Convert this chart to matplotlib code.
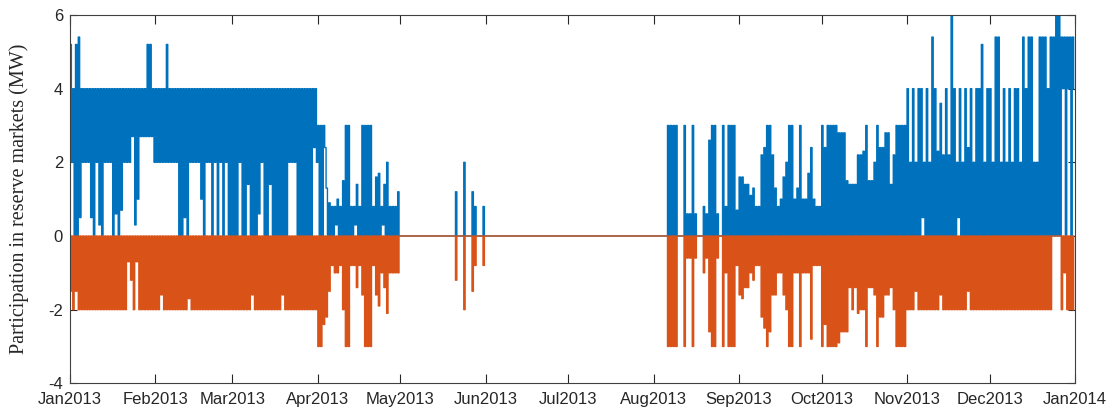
import numpy as np
import matplotlib
matplotlib.use("Agg")
import matplotlib.pyplot as plt

plt.rcParams["axes.unicode_minus"] = False

# ---- data: per-day upward (blue) max/min and downward (orange) min ----
up_hi_jan = [5.2,4,5.2,5.4,4,4,4,4,4,4,4,4,4,4,4,4,4,4,4,4,4,4,4,4,4,4,4,4,5.2,5.2,4]
up_lo_jan = [2,0,0,0.5,2,2,2,0.5,0,2,0.3,0,2,2,2,0,0.6,0,0.7,2,2,2,2.7,0.3,1.0,2.7,2.7,2.7,2.7,2.7,2]
dn_lo_jan = [-1.5,-2,-1.5,-2,-2,-2,-2,-2,-2,-2,-2,-2,-2,-2,-2,-2,-2,-2,-2,-2,-2,-0.7,-1.2,-2,-0.7,-2,-2,-2,-2,-2,-2]

up_hi_feb = [4,4,4,4,5.2,4,4,4,4,4,4,4,4,4,4,4,4,4,4,4,4,4,4,4,4,4,4,4]
up_lo_feb = [2,2,2,2,2,2,2,2,0,0,0.5,0,2,2,2,2,1.0,0,2,2,0,2,0,2,0,2,0,0]
dn_lo_feb = [-2,-2,-1.6,-2,-2,-2,-2,-2,-2,-2,-2,-2,-1.7,-2,-2,-2,-2,-2,-2,-2,-2,-2,-2,-2,-2,-2,-2,-2]

up_hi_mar = [4,4,4,4,4,4,4,4,4,4,4,4,4,4,4,4,4,4,4,4,4,4,4,4,4,4,4,4,4,4,4]
up_lo_mar = [0,0,2,0,0,1.4,0,0,0,0.6,2,0,0,1.4,0,0,0,0,0,0,2,2,2,0,0,0,0,0,0,2.4,2]
dn_lo_mar = [-2,-2,-2,-2,-2,-2,-2,-1.6,-2,-2,-2,-2,-2,-2,-2,-2,-2,-2,-1.6,-2,-2,-2,-2,-2,-2,-2,-2,-2,-2,-2,-2]

up_hi_apr = [3,3,3,1.3,0.9,0.8,0.8,1.0,0.8,1.5,3,3,0.8,0.8,1.4,0.8,3,3,3,3,0.8,1.6,1.7,0.8,1.4,2.0,0.8,0.8,0.8,1.2]
up_lo_apr = [0,0,2.4,0,0,0,0.3,0,0,0,0,0,0,0.3,0,0,0,0,0,0,0,0,0,0.3,0,0,0,0,0,0]
dn_lo_apr = [-3,-3,-2.4,-2.2,-1.5,-0.8,-1.0,-1.0,-0.8,-2,-3,-3,-0.8,-0.8,-1.4,-0.8,-1.6,-3,-3,-3,-0.8,-1.6,-1.9,-1.0,-1.4,-2.1,-1.0,-1.0,-1.0,-1.0]

up_hi_may = [0,0,0,0,0,0,0,0,0,0,0,0,0,0,0,0,0,0,0,0,1.2,0,0,2.0,0,0,1.2,0.8,0,0,0.8]
up_lo_may = [0,0,0,0,0,0,0,0,0,0,0,0,0,0,0,0,0,0,0,0,0,0,0,0,0,0,0,0,0,0,0]
dn_lo_may = [0,0,0,0,0,0,0,0,0,0,0,0,0,0,0,0,0,0,0,0,-1.2,0,0,-2.0,0,0,-1.5,-0.8,0,0,-0.8]

up_hi_jun = [0,0,0,0,0,0,0,0,0,0,0,0,0,0,0,0,0,0,0,0,0,0,0,0,0,0,0,0,0,0]
up_lo_jun = [0,0,0,0,0,0,0,0,0,0,0,0,0,0,0,0,0,0,0,0,0,0,0,0,0,0,0,0,0,0]
dn_lo_jun = [0,0,0,0,0,0,0,0,0,0,0,0,0,0,0,0,0,0,0,0,0,0,0,0,0,0,0,0,0,0]

up_hi_jul = [0,0,0,0,0,0,0,0,0,0,0,0,0,0,0,0,0,0,0,0,0,0,0,0,0,0,0,0,0,0,0]
up_lo_jul = [0,0,0,0,0,0,0,0,0,0,0,0,0,0,0,0,0,0,0,0,0,0,0,0,0,0,0,0,0,0,0]
dn_lo_jul = [0,0,0,0,0,0,0,0,0,0,0,0,0,0,0,0,0,0,0,0,0,0,0,0,0,0,0,0,0,0,0]

up_hi_aug = [0,0,0,0,0,3,3,3,3,0,0,3,0.6,0.6,3,0.6,0,0,0.8,0.6,2.6,3,3,0.6,0,3,0.8,3,3,3,0.7]
up_lo_aug = [0,0,0,0,0,0,0,0,0,0,0,0,0,0,0,0,0,0,0,0,0,0,0,0,0,0,0,0,0,0,0]
dn_lo_aug = [0,0,0,0,0,-3,-3,-3,-3,0,0,-3,-0.6,-0.6,-3,-0.6,0,0,-1.0,-0.6,-2.6,-3,-3,-0.6,0,-3,-1.0,-3,-3,-3,-0.8]

up_hi_sep = [1.6,1.6,1.4,1.4,1.1,1.3,0.8,0.8,2.2,2.4,3,3,2.2,1.3,0.8,1.0,1.6,2.0,3,3,1.0,1.3,3,1.0,1.0,1.7,2.4,1.0,0.8,0.8]
up_lo_sep = [0,0,0,0,0,0,0,0,0,0,0,0,0,0,0,0,0,0,0,0,0,0,0,0,0,0,0,0,0,0]
dn_lo_sep = [-1.6,-1.7,-1.4,-1.4,-1.0,-1.2,-0.8,-0.8,-2.2,-2.5,-3,-2.6,-1.6,-1.6,-1.0,-1.0,-1.6,-2.0,-3,-3,-1.0,-1.0,-3,-1.0,-1.0,-1.0,-2.8,-0.8,-0.8,-0.8]

up_hi_oct = [3,2.4,3,3,3,3,2.8,2.8,2.8,1.5,1.4,1.4,1.4,2.2,2.2,2.3,3,1.5,1.5,2.0,3,2.4,2.4,2.8,2.8,1.4,2.2,3,3,3,3]
up_lo_oct = [0,0,0,0,0,0,0,0,0,0,0,0,0,0,0,0,0,0,0,0,0,0,0,0,0,0,0,0,0,0,0]
dn_lo_oct = [-3,-2.4,-3,-3,-3,-3,-2.9,-2.6,-2.6,-2.6,-1.4,-2.0,-1.4,-2.1,-2.0,-2.0,-3,-1.4,-1.4,-1.6,-3,-2.2,-2.2,-1.6,-1.6,-1.4,-2.0,-3,-3,-3,-3]

up_hi_nov = [4,2,4,2,4,4,2,4,2,5.4,4,2.3,3.6,2.2,4,2.2,6,4,2,4,2,4,2.4,4,2,4,4,5.2,2,4]
up_lo_nov = [0,0,0,0,0,0.5,0,0,0,0,0,0,0,0,0,0,0,0,0.5,0,0,0,0,0,0,0,0,0,0,0]
dn_lo_nov = [-2,-2,-2,-1.5,-2,-2,-2,-2,-2,-2,-2,-2,-1.6,-2,-2,-2,-2,-2,-2,-2,-2,-2,-1.5,-2,-2,-2,-2,-2,-2,-2]

up_hi_dec = [4,2,5.4,5.4,2,4,2,4,2,4,4,2,5.4,4,5.4,5.4,2,2,5.4,5.4,5.4,4,5.4,5.4,6,6,5.4,5.4,5.4,5.4,5.4]
up_lo_dec = [0,0,0,0,0,0,0,0,0,0,0,0,0,0,0,0,0,0,0,0,0,0,0,0,0,0,4,0,4,0,4]
dn_lo_dec = [-2,-2,-2,-2,-2,-2,-2,-2,-2,-2,-2,-2,-2,-2,-2,-2,-2,-2,-2,-2,-2,-2,-2,0,0,0,-2,-1.0,-2,-2,-2]

month_labels = ["Jan2013", "Feb2013", "Mar2013", "Apr2013", "May2013", "Jun2013", "Jul2013",
                "Aug2013", "Sep2013", "Oct2013", "Nov2013", "Dec2013", "Jan2014"]
y_ticks = [-4, -2, 0, 2, 4, 6]

up_hi = np.concatenate([up_hi_jan, up_hi_feb, up_hi_mar, up_hi_apr, up_hi_may, up_hi_jun,
                        up_hi_jul, up_hi_aug, up_hi_sep, up_hi_oct, up_hi_nov, up_hi_dec])
up_lo = np.concatenate([up_lo_jan, up_lo_feb, up_lo_mar, up_lo_apr, up_lo_may, up_lo_jun,
                        up_lo_jul, up_lo_aug, up_lo_sep, up_lo_oct, up_lo_nov, up_lo_dec])
dn_lo = np.concatenate([dn_lo_jan, dn_lo_feb, dn_lo_mar, dn_lo_apr, dn_lo_may, dn_lo_jun,
                        dn_lo_jul, dn_lo_aug, dn_lo_sep, dn_lo_oct, dn_lo_nov, dn_lo_dec])

days = np.arange(np.datetime64("2013-01-01"), np.datetime64("2014-01-01")).astype("datetime64[h]")
n = len(days)
t = np.empty(2 * n, dtype="datetime64[h]")
t[0::2] = days
t[1::2] = days + np.timedelta64(12, "h")
up = np.empty(2 * n); up[0::2] = up_hi; up[1::2] = up_lo
dn = np.empty(2 * n); dn[0::2] = dn_lo; dn[1::2] = 0.0

# ---- figure ----
fig = plt.figure(figsize=(11.13, 4.12), dpi=100)
ax = fig.add_axes([70 / 1113, (412 - 383.3) / 412, 1005 / 1113, (383.3 - 15) / 412])

blue = "#0072BD"
orange = "#D95319"
ax.plot(t, up, color=blue, lw=1.0, drawstyle="steps-post")
ax.plot(t, dn, color=orange, lw=1.0, drawstyle="steps-post")

ax.set_xlim(np.datetime64("2013-01-01"), np.datetime64("2014-01-01"))
ax.set_ylim(-4, 6)
month_ticks = np.arange(np.datetime64("2013-01"), np.datetime64("2014-02"), dtype="datetime64[M]").astype("datetime64[D]")
ax.set_xticks(month_ticks)
ax.set_xticklabels(month_labels)
ax.set_yticks(y_ticks)

for s in ax.spines.values():
    s.set_color("#404040")
    s.set_linewidth(0.8)
ax.tick_params(axis="both", direction="in", top=True, right=True, colors="#262626",
               labelcolor="#262626", width=0.8, labelsize=12)
ax.tick_params(axis="x", length=6.5, pad=6)
ax.tick_params(axis="y", length=5, pad=5)
for lab in ax.get_xticklabels() + ax.get_yticklabels():
    lab.set_family("Liberation Sans")

ax.set_ylabel("Participation in reserve markets (MW)", family="Liberation Serif", fontsize=14.5, color="#262626")
ax.yaxis.set_label_coords(-0.0408, 0.5)

fig.savefig("out.png", dpi=100)
